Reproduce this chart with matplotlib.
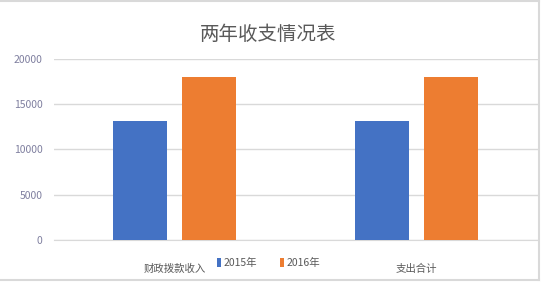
import numpy as np
import matplotlib.pyplot as plt
from matplotlib.lines import Line2D

plt.rcParams['font.family'] = ['Noto Sans CJK SC', 'DejaVu Sans']

# data
categories = ["财政拨款收入", "支出合计"]
series_names = ["2015年", "2016年"]
values_2015 = [13200, 13200]
values_2016 = [18000, 18000]
yticks = [0, 5000, 10000, 15000, 20000]
colors = ["#4472C4", "#ED7D31"]

fig = plt.figure(figsize=(5.41, 2.84), dpi=100)
ax = fig.add_axes([53.5 / 541, 44 / 284, 484 / 541, 181 / 284])

x = np.arange(len(categories))
w = 0.226
off = 0.142
ax.bar(x - off, values_2015, width=w, color=colors[0], label=series_names[0], zorder=3)
ax.bar(x + off, values_2016, width=w, color=colors[1], label=series_names[1], zorder=3)

ax.set_xlim(-0.5, 1.5)
ax.set_ylim(0, 20000)
ax.set_yticks(yticks)
ax.set_yticklabels([str(v) for v in yticks], fontsize=7.5, color="#7F7F9F")
ax.set_xticks(x)
ax.set_xticklabels(categories, fontsize=7.5, color="#595959")
ax.tick_params(axis="both", length=0)
ax.tick_params(axis="x", pad=17)
ax.tick_params(axis="y", pad=8)
ax.yaxis.grid(True, color="#D9D9D9", linewidth=1, zorder=0)
for s in ["top", "right", "left"]:
    ax.spines[s].set_visible(False)
ax.spines["bottom"].set_color("#D9D9D9")

fig.text(0.495, 0.88, "两年收支情况表", ha="center", va="center", fontsize=14, color="#595959")

fig.legend(loc="center", bbox_to_anchor=(0.497, 0.075), ncol=2, frameon=False,
           fontsize=7.5, handlelength=0.35, handleheight=1.0, handletextpad=0.3,
           columnspacing=2.2, labelcolor="#595959")

# outer frame: top, right, bottom
for xs, ys in [([0, 0.997], [0.995, 0.995]), ([0.997, 0.997], [0.014, 0.995]),
               ([0, 0.997], [0.014, 0.014])]:
    fig.add_artist(Line2D(xs, ys, transform=fig.transFigure, color="#D9D9D9", linewidth=1.5))

plt.savefig("out.png", dpi=100)
